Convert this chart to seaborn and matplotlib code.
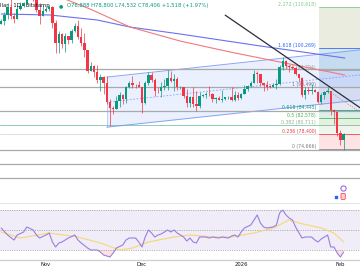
import numpy as np
import pandas as pd
import seaborn as sns
import matplotlib
matplotlib.use("Agg")
import matplotlib.pyplot as plt

sns.set_theme(style="white")
plt.rcParams['font.family'] = ['DejaVu Sans']

# ---------------- data (prices in thousand USD, daily, index 0 = 18 Oct 2025) -------------
opens = [106.4,107.2,108.6,110.6,108.4,107.6,110.1,111.0,111.6,114.5,
         114.1,112.9,110.0,108.3,109.6,110.1,110.6,106.5,101.6,103.9,
         101.3,103.3,102.3,104.7,105.9,103.0,101.6,99.7,94.5,95.6,
         94.2,92.2,92.9,91.5,86.6,85.1,84.7,86.8,88.3,87.4,
         90.5,91.3,90.9,90.8,90.4,86.3,91.3,93.5,92.1,89.4,
         89.3,90.4,90.6,92.7,92.0,92.5,90.3,90.3,88.2,86.4,
         87.8,86.1,85.5,88.1,88.3,88.6,88.5,87.4,87.6,87.2,
         87.3,87.8,87.8,87.1,88.4,87.5,88.7,90.0,90.6,91.4,
         93.8,93.7,91.3,91.0,90.5,90.4,90.8,91.1,95.5,97.0,
         95.6,95.5,95.1,93.6,92.6,88.3,89.7,89.4,89.5,89.2,
         86.6,88.3,89.2,89.3,84.5,84.1,78.6,76.888]
closes = [107.2,108.6,110.6,108.4,107.6,110.1,111.0,111.6,114.5,114.1,
          112.9,110.0,108.3,109.6,110.1,110.6,106.5,101.6,103.9,101.3,
          103.3,102.3,104.7,105.9,103.0,101.6,99.7,94.5,95.6,94.2,
          92.2,92.9,91.5,86.6,85.1,84.7,86.8,88.3,87.4,90.5,
          91.3,90.9,90.8,90.4,86.3,91.3,93.5,92.1,89.4,89.3,
          90.4,90.6,92.7,92.0,92.5,90.3,90.3,88.2,86.4,87.8,
          86.1,85.5,88.1,88.3,88.6,88.5,87.4,87.6,87.2,87.3,
          87.8,87.8,87.1,88.4,87.5,88.7,90.0,90.6,91.4,93.8,
          93.7,91.3,91.0,90.5,90.4,90.8,91.1,95.5,97.0,95.6,
          95.5,95.1,93.6,92.6,88.3,89.7,89.4,89.5,89.2,86.6,
          88.3,89.2,89.3,84.5,84.1,78.6,76.888,78.406]
highs = [107.5,109.4,111.7,114.0,109.2,111.2,112.0,111.9,115.0,116.4,
         116.1,113.6,111.6,111.1,110.6,111.2,110.8,107.3,104.6,104.2,
         104.0,103.4,105.0,106.6,107.4,105.3,104.0,99.8,96.6,96.0,
         96.0,93.8,93.2,93.1,87.4,85.6,88.0,89.2,88.5,90.6,
         91.9,93.1,91.2,92.0,90.4,92.0,94.1,94.1,92.7,90.3,
         91.7,92.3,94.6,94.5,93.6,92.8,90.6,90.5,90.0,88.1,
         90.3,89.4,89.0,88.5,89.0,90.6,88.9,87.9,88.0,89.5,
         87.9,88.0,90.3,89.3,89.0,88.9,90.9,90.8,91.8,94.7,
         94.4,93.7,91.5,91.8,90.8,91.5,92.4,96.0,97.9,97.2,
         95.9,95.6,95.5,93.6,92.8,90.3,90.3,91.1,89.9,89.3,
         88.8,89.4,90.5,89.4,84.9,84.2,79.4,78.8]
lows = [106.3,106.1,107.5,107.5,106.7,107.5,109.8,110.6,111.3,114.0,
        112.3,109.3,106.3,108.3,109.4,109.7,105.4,98.9,98.9,100.3,
        99.3,101.4,101.5,104.3,102.6,100.8,98.0,94.0,94.5,93.0,
        91.4,89.3,88.6,86.1,80.6,83.5,84.7,85.3,86.1,86.3,
        90.1,90.2,90.2,90.3,83.8,86.2,91.0,91.7,88.1,88.9,
        87.8,89.6,89.6,91.6,89.3,89.5,89.8,87.6,85.2,85.3,
        85.4,84.4,85.1,87.9,87.6,88.2,86.6,86.4,87.0,86.6,
        87.2,87.4,86.8,86.9,87.2,87.4,88.6,89.3,90.5,91.3,
        91.3,90.7,89.3,89.6,90.1,90.3,90.0,90.9,94.6,95.2,
        94.3,94.9,93.4,91.9,87.9,87.3,88.5,88.5,89.0,86.3,
        86.1,87.3,88.8,83.4,81.1,77.9,75.6,74.532]

# moving averages (index, price)
ma_blue_idx = [0, 15.25, 30, 40.25, 55.9, 81, 107.4]
ma_blue_val = [108.89, 108.64, 107.37, 105.59, 103.82, 100.78, 97.73]
ma_red_idx = [19.9, 27.75, 34, 40.25, 55.9, 71.5, 87.1, 107.4]
ma_red_val = [112.69, 110.16, 107.87, 105.59, 102.04, 99.26, 96.72, 93.42]

# fibonacci retracement
fib_levels = ['0', '0.236', '0.382', '0.5', '0.618', '1', '1.272', '1.618', '2.272']
fib_prices = [74.666, 78.400, 80.711, 82.578, 84.445, 90.490, 94.794, 100.269, 110.618]
fib_labels = ['0 (74,666)', '0.236 (78,400)', '0.382 (80,711)', '0.5 (82,578)', '0.618 (84,445)',
              '1 (90,490)', '1.272 (94,794)', '1.618 (100,269)', '2.272 (110,618)']
fib_line_colors = ['#787b86', '#f23645', '#8fb08f', '#4caf50', '#089981',
                   '#787b86', '#9aa89a', '#2962ff', '#81c784']
fib_band_colors = ['#fde3e4', '#edf5ec', '#e3f1e3', '#dcefe9', '#e7e9f0',
                   '#d9e4f6', '#d5e8ee', '#e9ecdf']
fib_extended = {'0.382': '#8ccfb8', '0.236': '#dedede'}

# horizontal lines, channel, trend lines
hlines = [94.95, 90.38, 84.30, 74.41, 70.86, 67.30]
ch_idx = [33, 112.2]
ch_top = [92.9, 99.8]
ch_bot = [80.2, 87.1]
tl_idx = [70, 112.2]
tl_val = [108.6, 85.1]
dot_idx = [101.8, 112.2]
dot_val = [89.62, 84.0]

# RSI (14) and its moving average
rsi_idx = [0,2,4,5,7,8,10,11,12,14,15,16,17,18,19,20,21,23,24,25,27,28,30,31,32,34,35,36,38,39,
           40,42,43,44,45,46,47,48,49,50,52,53,54,55,57,58,59,60,61,62,64,65,66,68,69,71,72,73,74,75,
           76,78,79,80,81,82,83,85,86,87,88,89,90,91,92,94,95,97,98,99,100,101,102,103,104,105,106,107]
rsi_val = [52,45,40,45,48,53,50,45,42,45,47,38,33,37,38,40,42,45,40,37,32,30,30,28,25,23,27,32,35,40,
           42,42,38,33,43,50,47,43,45,46,50,48,50,47,43,39,42,38,37,43,43,42,43,42,43,42,44,45,43,48,
           52,55,60,65,57,53,52,53,55,67,70,65,62,60,53,42,43,43,40,38,41,43,45,33,33,27,23,28]
rsi_ma_idx = [0, 6, 15, 24, 31, 37, 41, 46, 54, 59, 66, 72, 79, 85, 90, 93, 100, 104, 107]
rsi_ma_val = [48, 42, 47, 43, 37, 30, 32, 38, 43, 45, 43, 43, 47, 52, 60, 57, 52, 47, 38]

month_pos = [14, 44, 75, 106]
month_lab = ['Nov', 'Dec', '2026', 'Feb']

title_left = 'llar · 1D · Bitstamp'
title_ohlc = 'O76,888 H78,800 L74,532 C78,406 +1,518 (+1.97%)'

# ---------------- figure ----------------
W, H = 360, 270
fig = plt.figure(figsize=(3.6, 2.7), dpi=100)
fig.patch.set_facecolor('white')

XL = (-0.375, 112.125)
ax = fig.add_axes([0, 68 / H, 1, 202 / H])
ax.set_xlim(*XL)
ax.set_ylim(61.23, 112.44)
ax.axis('off')

UP, DN = '#089981', '#f23645'
fib_x0 = 99.3

# fib bands
for k in range(len(fib_prices) - 1):
    ax.fill_between([fib_x0, XL[1]], fib_prices[k], fib_prices[k + 1],
                    color=fib_band_colors[k], lw=0, zorder=0.5)
# fib lines
for lv, p, c in zip(fib_levels, fib_prices, fib_line_colors):
    if lv in fib_extended:
        ax.plot([XL[0], fib_x0], [p, p], color=fib_extended[lv], lw=0.7, zorder=1)
    ax.plot([fib_x0, XL[1]], [p, p], color=c, lw=0.7, alpha=0.8, zorder=1)
# channel
ax.fill_between(ch_idx, ch_bot, ch_top, color='#2962ff', alpha=0.09, lw=0, zorder=0.8)
ax.plot(ch_idx, ch_top, color='#6f8ff5', lw=0.7, alpha=0.8, zorder=1.2)
ax.plot(ch_idx, ch_bot, color='#6f8ff5', lw=0.7, alpha=0.8, zorder=1.2)
ax.plot(ch_idx, [(a + b) / 2 for a, b in zip(ch_top, ch_bot)], color='#6f8ff5', lw=0.6,
        ls=(0, (2, 2)), alpha=0.8, zorder=1.2)
ax.plot([ch_idx[0], ch_idx[0]], [ch_bot[0], ch_top[0]], color='#6f8ff5', lw=0.5, alpha=0.5, zorder=1.2)
# horizontal gray lines
for p in hlines:
    ax.axhline(p, color='#a9a9a9', lw=0.9, zorder=1.3)

# fib labels
for p, t, c in zip(fib_prices, fib_labels, fib_line_colors):
    ax.text(XL[0] + 316 / 3.2, p, t, fontsize=3.3, color=c, ha='right', va='bottom', zorder=2)

# candles
idx = np.arange(len(closes))
for i in idx:
    o, c, h, l = opens[i], closes[i], highs[i], lows[i]
    col = UP if c >= o else DN
    ax.plot([i, i], [l, h], color=col, lw=0.5, zorder=3, solid_capstyle='butt')
    body = max(abs(c - o), 0.12)
    ax.bar(i, body, bottom=min(o, c), width=0.76, color=col, lw=0, zorder=3.2)

# moving averages (seaborn)
sns.lineplot(x=ma_blue_idx, y=ma_blue_val, ax=ax, color='#6a70f0', lw=0.8, sort=False,
             estimator=None, legend=False, zorder=2.5)
sns.lineplot(x=ma_red_idx, y=ma_red_val, ax=ax, color='#f07a7a', lw=0.8, sort=False,
             estimator=None, legend=False, zorder=2.5)
# trend lines
ax.plot(tl_idx, tl_val, color='#2a2e39', lw=0.9, zorder=4)
ax.plot(dot_idx, dot_val, color='#9e9e9e', lw=0.6, ls=(0, (1.5, 1.5)), zorder=4)

# event markers at bottom of price pane
ax.scatter([106.8], [64.8], s=14, facecolor='white', edgecolor='#9c6ade', lw=0.8, zorder=5)
ax.text(106.5, 62.4, '  ', fontsize=2.5, zorder=5,
        bbox=dict(boxstyle='round,pad=0.3', fc='#fbd0d4', ec='#f23645', lw=0.5))
ax.scatter([104.6], [62.4], s=4, marker='s', color='#2962ff', zorder=6)

# title
fig.text(0, 1 - 5.5 / H, title_left, fontsize=3.8, color='#131722', va='center', ha='left')
fig.text(61 / W, 1 - 5.5 / H, '●', fontsize=3.5, color='#089981', va='center', ha='center')
fig.text(67 / W, 1 - 5.5 / H, title_ohlc, fontsize=3.8, color='#089981', va='center', ha='left')

# separator line between panes
fig.add_artist(plt.Line2D([0, 1], [1 - 202.5 / H] * 2, color='#e6e6e6', lw=0.8))

# ---------------- RSI pane ----------------
rax = fig.add_axes([0, 10 / H, 1, 57 / H])
rax.set_xlim(*XL)
rax.set_ylim(20, 77)
rax.set_facecolor('white')
rax.axhspan(30, 70, color='#7e57c2', alpha=0.11, lw=0, zorder=0)
for lv in (70, 50, 30):
    rax.axhline(lv, color='#a0a0a0', lw=0.55, ls=(0, (1.5, 1.5)), zorder=1)
r_i = np.array(rsi_idx, dtype=float)
r_v = np.array(rsi_val, dtype=float)
rax.fill_between(r_i, r_v, 30, where=r_v < 30, interpolate=True, color='#f23645', alpha=0.15,
                 lw=0, zorder=1.5)
sns.lineplot(x=rsi_ma_idx, y=rsi_ma_val, ax=rax, color='#f7d774', lw=0.8, sort=False,
             estimator=None, legend=False, zorder=2)
sns.lineplot(x=rsi_idx, y=rsi_val, ax=rax, color='#9a7fe0', lw=0.8, sort=False,
             estimator=None, legend=False, zorder=3)
for s in ('top', 'left', 'right'):
    rax.spines[s].set_visible(False)
rax.spines['bottom'].set_color('#cfcfcf')
rax.spines['bottom'].set_linewidth(0.9)
rax.set_yticks([])
rax.set_xticks(month_pos)
rax.set_xticklabels(month_lab)
rax.tick_params(axis='x', length=0, pad=1.5, labelsize=3.8, colors='#131722')
rax.set_xlabel('')
rax.set_ylabel('')

fig.savefig('out.png', dpi=100, facecolor='white')
